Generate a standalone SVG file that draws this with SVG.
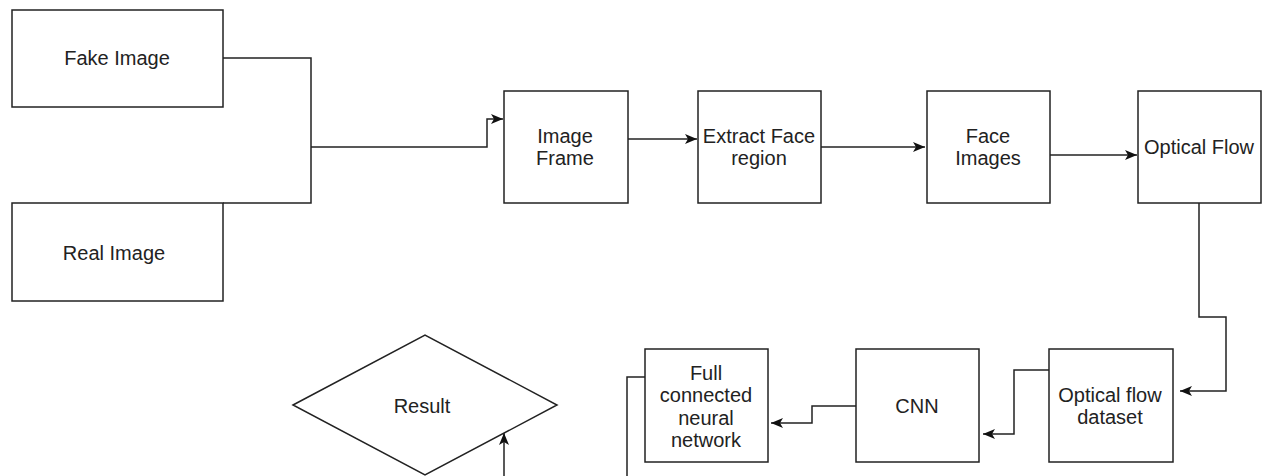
<svg xmlns="http://www.w3.org/2000/svg" width="1262" height="476" viewBox="0 0 1262 476">
<style>
.box{fill:#fff;stroke:#222;stroke-width:1.5}
.lbl{font-family:"Liberation Sans",Arial,sans-serif;font-size:20px;fill:#222;text-anchor:middle;dominant-baseline:central}
.edge{fill:none;stroke:#222;stroke-width:1.5}
</style>
<defs>
<marker id="arr" markerUnits="userSpaceOnUse" markerWidth="14" markerHeight="12" refX="12" refY="5" orient="auto" viewBox="0 0 14 10">
<path d="M0,0 L12,5 L0,10 L3,5 z" fill="#111"/>
</marker>
</defs>
<rect width="1262" height="476" fill="#fff"/>
<g id="edges">
<path class="edge" d="M223,58 H311 V203 H223"/>
<path class="edge" d="M311,147 H487 V119 H503" marker-end="url(#arr)"/>
<path class="edge" d="M628,139 H697" marker-end="url(#arr)"/>
<path class="edge" d="M821,147 H925" marker-end="url(#arr)"/>
<path class="edge" d="M1050,155 H1137" marker-end="url(#arr)"/>
<path class="edge" d="M1199,203 V317 H1226 V391 H1180" marker-end="url(#arr)"/>
<path class="edge" d="M1049,370 H1014 V434 H983" marker-end="url(#arr)"/>
<path class="edge" d="M856,406 H812 V423 H771" marker-end="url(#arr)"/>
<path class="edge" d="M645,377 H627 V490"/>
<path class="edge" d="M504,490 V433" marker-end="url(#arr)"/>
</g>
<g id="fake"><rect class="box" x="12" y="10" width="211" height="97"/><text class="lbl" x="117" y="58">Fake Image</text></g>
<g id="real"><rect class="box" x="12" y="203" width="211" height="98"/><text class="lbl" x="114" y="253">Real Image</text></g>
<g id="frame"><rect class="box" x="504" y="91" width="124" height="112"/><text class="lbl" x="565" y="136">Image</text><text class="lbl" x="565" y="158">Frame</text></g>
<g id="extract"><rect class="box" x="698" y="91" width="123" height="112"/><text class="lbl" x="759" y="136">Extract Face</text><text class="lbl" x="759" y="158">region</text></g>
<g id="faces"><rect class="box" x="927" y="91" width="123" height="112"/><text class="lbl" x="988" y="136">Face</text><text class="lbl" x="988" y="158">Images</text></g>
<g id="optical"><rect class="box" x="1138" y="91" width="123" height="112"/><text class="lbl" x="1199" y="147">Optical Flow</text></g>
<g id="dataset"><rect class="box" x="1049" y="349" width="124" height="113"/><text class="lbl" x="1110" y="395">Optical flow</text><text class="lbl" x="1110" y="417">dataset</text></g>
<g id="cnn"><rect class="box" x="856" y="349" width="123" height="113"/><text class="lbl" x="917" y="406">CNN</text></g>
<g id="fcnn"><rect class="box" x="645" y="349" width="123" height="113"/><text class="lbl" x="706" y="373">Full</text><text class="lbl" x="706" y="395">connected</text><text class="lbl" x="706" y="418">neural</text><text class="lbl" x="706" y="440">network</text></g>
<g id="result"><path class="box" d="M293,405 L425,335 L557,405 L425,475 Z"/><text class="lbl" x="422" y="406">Result</text></g>
</svg>
